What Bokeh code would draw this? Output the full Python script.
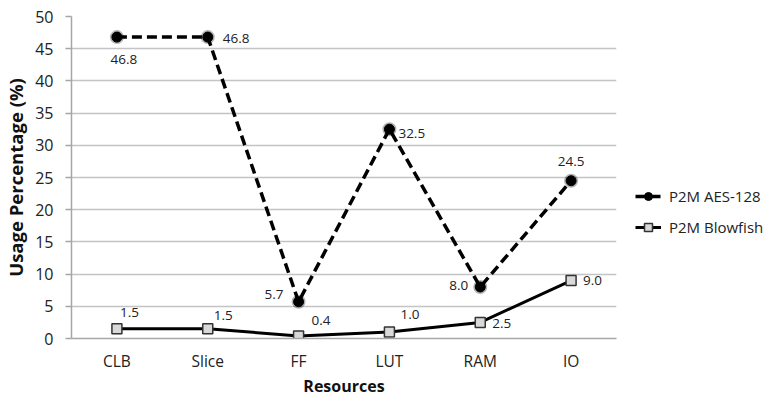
from bokeh.plotting import figure
from bokeh.models import ColumnDataSource, Legend, LegendItem, SingleIntervalTicker, FactorRange
from bokeh.core.properties import value
from bokeh.embed import file_html
from bokeh.resources import INLINE

categories = ["CLB", "Slice", "FF", "LUT", "RAM", "IO"]
aes_values = [46.8, 46.8, 5.7, 32.5, 8.0, 24.5]
blowfish_values = [1.5, 1.5, 0.4, 1.0, 2.5, 9.0]
series_names = ["P2M AES-128", "P2M Blowfish"]

# label placement styles (pixels)
aes_dx = [7, 15, -15, 9, -12, 0]
aes_dy = [22, 1, -7, 4, -1, -19]
aes_align = ["center", "left", "right", "left", "right", "center"]
bf_dx = [3, 6, 13, 11, 12, 12]
bf_dy = [-16, -13, -15, -18, 1, 0]
bf_align = ["left", "left", "left", "left", "left", "left"]

FONT = "Open Sans"

aes_src = ColumnDataSource(dict(x=categories, y=aes_values,
                                lbl=[f"{v:.1f}" for v in aes_values],
                                dx=aes_dx, dy=aes_dy, al=aes_align))
bf_src = ColumnDataSource(dict(x=categories, y=blowfish_values,
                               lbl=[f"{v:.1f}" for v in blowfish_values],
                               dx=bf_dx, dy=bf_dy, al=bf_align))

p = figure(frame_width=545, frame_height=322, x_range=FactorRange(*categories), y_range=(0, 50),
           output_backend="svg", toolbar_location=None,
           min_border_left=71, min_border_right=149, min_border_top=16, min_border_bottom=60)
p.outline_line_color = None
p.background_fill_color = "white"
p.border_fill_color = "white"

p.xgrid.grid_line_color = None
p.ygrid.grid_line_color = "#c4c4c4"
p.ygrid.grid_line_width = 1.5

p.yaxis.ticker = SingleIntervalTicker(interval=5)
p.yaxis.axis_line_color = "#a6a6a6"
p.yaxis.axis_line_width = 1.5
p.yaxis.major_tick_line_color = "#a6a6a6"
p.yaxis.major_tick_line_width = 1.5
p.yaxis.major_tick_out = 6
p.yaxis.major_tick_in = 0
p.yaxis.minor_tick_line_color = None
p.yaxis.major_label_standoff = 12
p.yaxis.major_label_text_font = FONT
p.yaxis.major_label_text_font_size = "16px"
p.yaxis.major_label_text_color = "#222222"
p.yaxis.axis_label = "Usage Percentage (%)"
p.yaxis.axis_label_text_font = FONT
p.yaxis.axis_label_text_font_style = "bold"
p.yaxis.axis_label_text_font_size = "18.5px"
p.yaxis.axis_label_text_color = "#111111"
p.yaxis.axis_label_standoff = 4

p.xaxis.axis_line_color = "#a6a6a6"
p.xaxis.axis_line_width = 1.5
p.xaxis.major_tick_line_color = None
p.xaxis.minor_tick_line_color = None
p.xaxis.major_tick_out = 0
p.xaxis.major_tick_in = 0
p.xaxis.major_label_standoff = 11
p.xaxis.major_label_text_font = FONT
p.xaxis.major_label_text_font_size = "15.5px"
p.xaxis.major_label_text_color = "#222222"
p.xaxis.axis_label = "Resources"
p.xaxis.axis_label_text_font = FONT
p.xaxis.axis_label_text_font_style = "bold"
p.xaxis.axis_label_text_font_size = "16px"
p.xaxis.axis_label_text_color = "#111111"
p.xaxis.axis_label_standoff = 0

# AES series
aes_line = p.line("x", "y", source=aes_src, line_color="black", line_width=3.5, line_dash="10 5")
aes_glow = p.scatter("x", "y", source=aes_src, marker="circle", size=14, fill_color="black",
                     fill_alpha=0.3, line_color=None)
aes_pts = p.scatter("x", "y", source=aes_src, marker="circle", size=10, fill_color="black",
                    line_color="black")

# Blowfish series
bf_line = p.line("x", "y", source=bf_src, line_color="black", line_width=3)
bf_pts = p.scatter("x", "y", source=bf_src, marker="square", size=10, fill_color="#d9d9d9",
                   line_color="#333333", line_width=1.5)

p.text("x", "y", text="lbl", source=aes_src, x_offset="dx", y_offset="dy", text_align="al",
       text_baseline="middle", text_font=value(FONT), text_font_size="13.5px", text_color="#222222")
p.text("x", "y", text="lbl", source=bf_src, x_offset="dx", y_offset="dy", text_align="al",
       text_baseline="middle", text_font=value(FONT), text_font_size="13.5px", text_color="#222222")

legend = Legend(items=[LegendItem(label=series_names[0], renderers=[aes_line, aes_pts]),
                       LegendItem(label=series_names[1], renderers=[bf_line, bf_pts])],
                location=(19, 101), glyph_width=26, glyph_height=20, label_standoff=8,
                spacing=11, padding=0, margin=0, border_line_alpha=0, background_fill_alpha=0,
                label_text_font=FONT, label_text_font_size="15px", label_text_color="#222222")
p.add_layout(legend, "right")

open("out.html", "w").write(file_html(p, INLINE))
